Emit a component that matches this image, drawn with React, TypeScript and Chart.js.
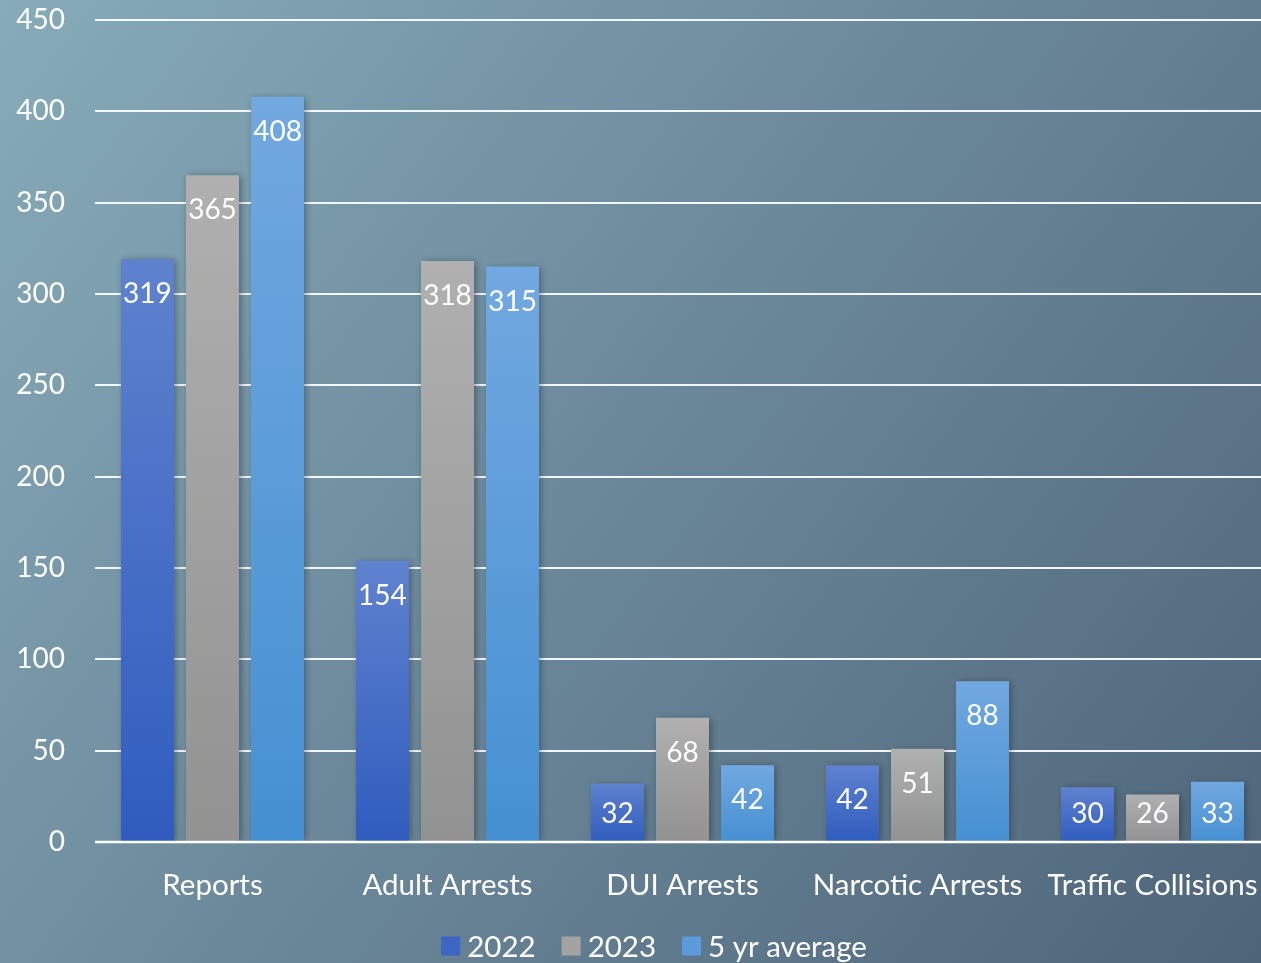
import React, { useEffect, useRef } from "react";
import { Chart, registerables } from "chart.js";

Chart.register(...registerables);

const categories = ["Reports", "Adult Arrests", "DUI Arrests", "Narcotic Arrests", "Traffic Collisions"];
const series2022 = [319, 154, 32, 42, 30];
const series2023 = [365, 318, 68, 51, 26];
const series5yr = [408, 315, 42, 88, 33];
const seriesNames = ["2022", "2023", "5 yr average"];
const yTicks = [0, 50, 100, 150, 200, 250, 300, 350, 400, 450];

const FONT = "Lato, 'Open Sans', sans-serif";

const gradStops: [string, string][] = [
  ["#5f82cf", "#2f5cbe"],
  ["#b0b0b0", "#929292"],
  ["#72a8e0", "#4590d2"],
];
const legendColors = ["#3d66c4", "#a3a3a3", "#5a9cdb"];

function barGradient(idx: number) {
  return (ctx: any) => {
    const chart = ctx.chart;
    const [c1, c2] = gradStops[idx];
    if (!chart.chartArea || ctx.raw == null || !chart.scales.y) return c1;
    const y = chart.scales.y;
    const top = y.getPixelForValue(ctx.raw);
    const bottom = y.getPixelForValue(0);
    const g = chart.ctx.createLinearGradient(0, top, 0, bottom);
    g.addColorStop(0, c1);
    g.addColorStop(1, c2);
    return g;
  };
}

const bgPlugin = {
  id: "bg",
  beforeDraw(chart: any) {
    const { ctx } = chart;
    const width = 1261;
    const height = chart.height;
    const g = ctx.createLinearGradient(0, 0, width, height);
    g.addColorStop(0, "#87abb9");
    g.addColorStop(0.5, "#6a8799");
    g.addColorStop(1, "#4f6579");
    ctx.save();
    ctx.fillStyle = g;
    ctx.fillRect(0, 0, chart.width, height);
    ctx.restore();
  },
};

const shadowPlugin = {
  id: "shadow",
  beforeDatasetsDraw(chart: any) {
    const ctx = chart.ctx;
    ctx.save();
    ctx.shadowColor = "rgba(20,30,45,0.45)";
    ctx.shadowBlur = 7;
    ctx.shadowOffsetX = 2;
    ctx.shadowOffsetY = 1;
  },
  afterDatasetsDraw(chart: any) {
    chart.ctx.restore();
  },
};

const zeroLinePlugin = {
  id: "zeroLine",
  afterDatasetsDraw(chart: any) {
    const { ctx, chartArea } = chart;
    const y = chart.scales.y.getPixelForValue(0);
    ctx.save();
    ctx.strokeStyle = "#ffffff";
    ctx.lineWidth = 2.5;
    ctx.beginPath();
    ctx.moveTo(chartArea.left, y);
    ctx.lineTo(chartArea.right, y);
    ctx.stroke();
    ctx.restore();
  },
};

const labelPlugin = {
  id: "valueLabels",
  afterDatasetsDraw(chart: any) {
    const ctx = chart.ctx;
    const y0 = chart.scales.y.getPixelForValue(0);
    ctx.save();
    ctx.fillStyle = "#ffffff";
    ctx.font = `28px ${FONT}`;
    ctx.textAlign = "center";
    ctx.textBaseline = "middle";
    chart.data.datasets.forEach((ds: any, di: number) => {
      const meta = chart.getDatasetMeta(di);
      meta.data.forEach((bar: any, i: number) => {
        const top = bar.y;
        const cy = Math.min(top + 35, y0 - 28);
        ctx.fillText(String(ds.data[i]), bar.x, cy);
      });
    });
    ctx.restore();
  },
};

const legendPlugin = {
  id: "customLegend",
  afterDraw(chart: any) {
    const ctx = chart.ctx;
    ctx.save();
    ctx.font = `29.5px ${FONT}`;
    ctx.textBaseline = "middle";
    const box = 19;
    const gapBoxText = 7;
    const gapItems = 26;
    const widths = chart.data.datasets.map((d: any) => box + gapBoxText + ctx.measureText(d.label).width);
    const total = widths.reduce((a: number, b: number) => a + b, 0) + gapItems * (widths.length - 1);
    let x = 654 - total / 2;
    const cy = 946;
    chart.data.datasets.forEach((d: any, i: number) => {
      ctx.fillStyle = legendColors[i];
      ctx.fillRect(x, cy - box / 2, box, box);
      ctx.fillStyle = "#ffffff";
      ctx.fillText(d.label, x + box + gapBoxText, cy + 1);
      x += widths[i] + gapItems;
    });
    ctx.restore();
  },
};

export default function App() {
  const ref = useRef<HTMLCanvasElement | null>(null);
  useEffect(() => {
    document.body.style.margin = "0";
    const canvas = ref.current!;
    const chart = new Chart(canvas, {
      type: "bar",
      data: {
        labels: categories,
        datasets: [series2022, series2023, series5yr].map((d, i) => ({
          label: seriesNames[i],
          data: d,
          backgroundColor: barGradient(i),
          borderWidth: 0,
          categoryPercentage: 0.83,
          barPercentage: 0.815,
        })),
      },
      options: {
        animation: false,
        responsive: false,
        maintainAspectRatio: false,
        layout: { padding: { top: 20, right: 0, left: 0, bottom: 0 } },
        plugins: { legend: { display: false }, tooltip: { enabled: false } },
        scales: {
          x: {
            grid: { display: false, drawTicks: false },
            border: { display: false },
            ticks: { color: "#ffffff", font: { family: FONT, size: 29.5 }, padding: 26, maxRotation: 0, autoSkip: false },
            afterFit(scale: any) {
              scale.height = 121;
              scale.paddingLeft = 0;
              scale.paddingRight = 0;
            },
          },
          y: {
            min: 0,
            max: 450,
            afterBuildTicks(scale: any) {
              scale.ticks = yTicks.map((v) => ({ value: v }));
            },
            grid: { color: "rgba(255,255,255,0.92)", lineWidth: 2, drawTicks: false },
            border: { display: false },
            ticks: { color: "#ffffff", font: { family: FONT, size: 28 }, padding: 30 },
            afterFit(scale: any) {
              scale.width = 95;
              scale.paddingTop = 0;
              scale.paddingBottom = 0;
            },
          },
        },
      },
      plugins: [bgPlugin, shadowPlugin, zeroLinePlugin, labelPlugin, legendPlugin],
    });
    return () => chart.destroy();
  }, []);
  return (
    <div style={{ position: "absolute", left: 0, top: 0, width: 1261, height: 963, overflow: "hidden" }}>
      <canvas ref={ref} width={1270} height={963} style={{ display: "block", width: 1270, height: 963 }} />
    </div>
  );
}
